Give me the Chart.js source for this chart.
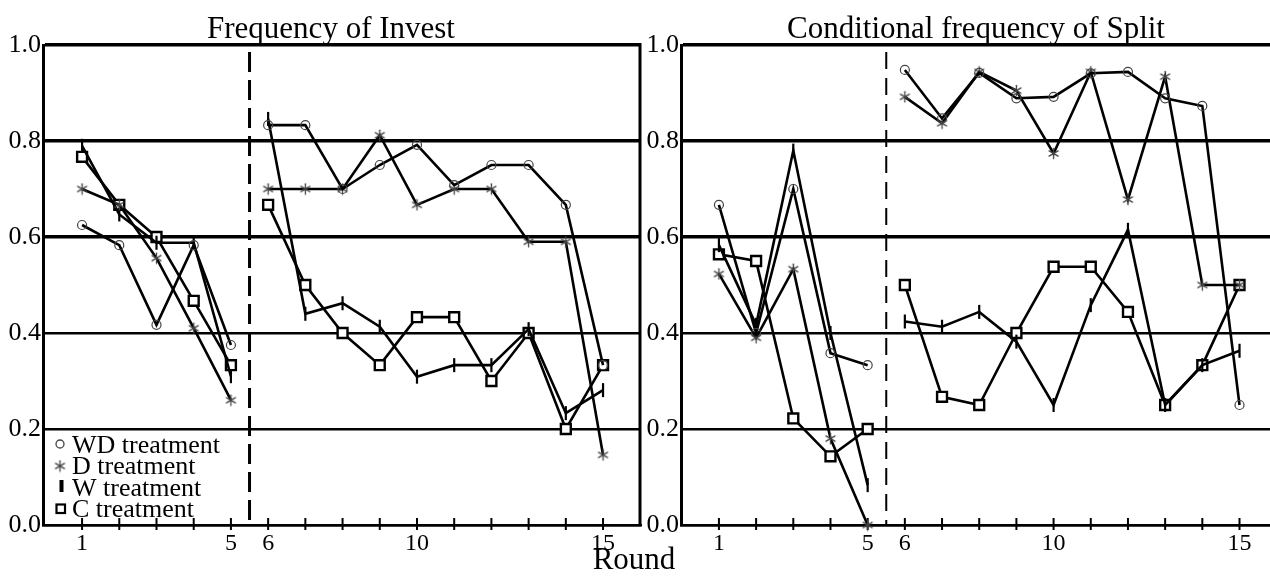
<!DOCTYPE html>
<html><head><meta charset="utf-8">
<script src="https://cdn.jsdelivr.net/npm/chart.js@4.4.1/dist/chart.umd.min.js"></script>
<style>
html,body{margin:0;padding:0;background:#fff;width:1270px;height:577px;overflow:hidden}
canvas{position:absolute;left:0;top:0}
</style></head><body>
<canvas id="c1" width="1270" height="577"></canvas>
<canvas id="c2" width="1270" height="577"></canvas>
<script>
// ---------- data ----------
const rounds = [1,2,3,4,5,6,7,8,9,10,11,12,13,14,15];
const xTickLabels = [1,5,6,10,15];
const yTickValues = [0,0.2,0.4,0.6,0.8,1.0];
const seriesNames = ['WD treatment','D treatment','W treatment','C treatment'];
const panelTitles = ['Frequency of Invest','Conditional frequency of Split'];
const xAxisTitle = 'Round';

// Frequency of Invest
const investWD = [0.625,0.583,0.417,0.583,0.375, 0.833,0.833,0.700,0.750,0.792,0.708,0.750,0.750,0.667,0.333];
const investD  = [0.700,0.667,0.556,0.410,0.260, 0.700,0.700,0.700,0.812,0.667,0.700,0.700,0.590,0.590,0.146];
const investW  = [0.790,0.647,0.588,0.588,0.310, 0.846,0.440,0.462,0.413,0.309,0.333,0.333,0.408,0.233,0.281];
const investC  = [0.767,0.667,0.600,0.467,0.333, 0.667,0.500,0.400,0.333,0.433,0.433,0.300,0.400,0.200,0.333];

// Conditional frequency of Split
const splitWD = [0.667,0.400,0.700,0.358,0.333, 0.948,0.847,0.942,0.889,0.892,0.941,0.944,0.889,0.873,0.250];
const splitD  = [0.523,0.390,0.533,0.180,0.000, 0.892,0.837,0.944,0.905,0.774,0.944,0.678,0.934,0.500,0.500];
const splitW  = [0.583,0.417,0.780,0.400,0.083, 0.424,0.413,0.444,0.382,0.250,0.458,0.615,0.250,0.333,0.363];
const splitC  = [0.564,0.550,0.222,0.143,0.200, 0.500,0.267,0.250,0.400,0.538,0.538,0.444,0.250,0.333,0.500];

const dividerRound = 5.5;

// ---------- styling ----------
Chart.defaults.font.family = '"Liberation Serif", "Times New Roman", serif';
Chart.defaults.color = '#000';

function makeAsterisk(){
  const c = document.createElement('canvas');
  c.width = 13; c.height = 13;
  const g = c.getContext('2d');
  g.strokeStyle = '#444'; g.lineWidth = 1.3; g.lineCap='round';
  const r = 5.2, cx = 6.5, cy = 6.5;
  [90,30,150].forEach(a=>{
    const t = a*Math.PI/180;
    g.beginPath();
    g.moveTo(cx+Math.cos(t)*r, cy-Math.sin(t)*r);
    g.lineTo(cx-Math.cos(t)*r, cy+Math.sin(t)*r);
    g.stroke();
  });
  return c;
}
const asterisk = makeAsterisk();

const markerStyles = [
  {pointStyle:'circle', pointRadius:4.5, pointBorderWidth:1.2, pointBorderColor:'#444', pointBackgroundColor:'rgba(0,0,0,0)', pointRotation:0},
  {pointStyle:asterisk, pointRadius:5, pointBorderWidth:1, pointBorderColor:'#444', pointBackgroundColor:'rgba(0,0,0,0)', pointRotation:0},
  {pointStyle:'line', pointRadius:7, pointBorderWidth:2.2, pointBorderColor:'#000', pointBackgroundColor:'#000', pointRotation:90},
  {pointStyle:'rect', pointRadius:7, pointBorderWidth:2.4, pointBorderColor:'#000', pointBackgroundColor:'#fff', pointRotation:0}
];

function buildDatasets(seriesList){
  return seriesList.map((vals,i)=>Object.assign({
    label: seriesNames[i],
    data: rounds.map((r,k)=>({x:r, y:vals[k]})),
    borderColor:'#000',
    borderWidth:2.6,
    tension:0,
    clip:false,
    segment:{ borderColor: c => (c.p0.parsed.x < dividerRound && c.p1.parsed.x > dividerRound) ? 'rgba(0,0,0,0)' : undefined }
  }, markerStyles[i]));
}

const decor = {
  id:'decor',
  beforeDatasetsDraw(chart, args, o){
    const ctx = chart.ctx, a = chart.chartArea, xs = chart.scales.x;
    ctx.save();
    ctx.strokeStyle = '#000';
    const xd = xs.getPixelForValue(dividerRound);
    ctx.lineWidth = o.dashWidth;
    ctx.setLineDash(o.dash);
    ctx.beginPath(); ctx.moveTo(xd, a.top + 7); ctx.lineTo(xd, a.bottom); ctx.stroke();
    ctx.setLineDash([]);
    ctx.lineWidth = 2;
    rounds.forEach(r=>{
      const px = xs.getPixelForValue(r);
      ctx.beginPath(); ctx.moveTo(px, a.bottom - 7); ctx.lineTo(px, a.bottom + 5); ctx.stroke();
    });
    if (o.rightBorder){
      ctx.lineWidth = 3;
      ctx.beginPath(); ctx.moveTo(a.right - 1, a.top - 2); ctx.lineTo(a.right - 1, a.bottom + 1); ctx.stroke();
    }
    ctx.restore();
  },
  afterDraw(chart, args, o){
    const ctx = chart.ctx;
    ctx.save();
    ctx.fillStyle = '#000';
    ctx.textAlign = 'center';
    ctx.textBaseline = 'alphabetic';
    ctx.font = '31px "Liberation Serif"';
    ctx.fillText(o.title, o.titleX, 38);
    if (o.legend){
      ctx.textAlign = 'left';
      ctx.font = '26px "Liberation Serif"';
      const base = [452.5, 474, 495.5, 517];
      seriesNames.forEach((n,i)=>ctx.fillText(n, 72, base[i]));
      ctx.strokeStyle = '#444'; ctx.lineWidth = 1.3;
      ctx.beginPath(); ctx.arc(60, 444, 4, 0, Math.PI*2); ctx.stroke();
      ctx.drawImage(asterisk, 60 - 6.5, 466 - 6.5);
      ctx.fillStyle = '#000';
      ctx.fillRect(59.5, 480, 4, 12);
      ctx.strokeStyle = '#000'; ctx.lineWidth = 2.2;
      ctx.strokeRect(56.5, 504.5, 8.5, 8.5);
      ctx.fillStyle = '#000';
      ctx.textAlign = 'center';
      ctx.font = '31px "Liberation Serif"';
      ctx.fillText(xAxisTitle, 634, 569);
    }
    ctx.restore();
  }
};

function makeChart(id, seriesList, cfg){
  return new Chart(document.getElementById(id), {
    type:'line',
    data:{ datasets: buildDatasets(seriesList) },
    options:{
      responsive:false, animation:false, events:[],
      layout:{ padding: cfg.padding, autoPadding:false },
      plugins:{
        legend:{display:false}, tooltip:{enabled:false}, title:{display:false},
        decor: cfg.decor
      },
      scales:{
        x:{
          type:'linear', min:cfg.xmin, max:cfg.xmax,
          afterFit: s => { s.height = 52; s.paddingLeft = 0; s.paddingRight = 0; },
          afterBuildTicks: s => { s.ticks = xTickLabels.map(v=>({value:v})); },
          grid:{ display:false, drawTicks:false },
          border:{ display:true, color:'#000', width:2.6 },
          ticks:{ font:{size:24}, color:'#000', padding:4, maxRotation:0, autoSkip:false, callback: v => String(v) }
        },
        y:{
          type:'linear', min:0, max:1,
          afterFit: s => { s.width = 43; s.paddingTop = 0; s.paddingBottom = 0; },
          afterBuildTicks: s => { s.ticks = yTickValues.map(v=>({value:v})); },
          grid:{ color:'#000', lineWidth: c => (c.tick && c.tick.value >= 0.55) ? 3.4 : 2.6, drawTicks:false },
          border:{ display:true, color:'#000', width:3 },
          ticks:{ font:{size:26}, color:'#000', padding:2, callback: v => Number(v).toFixed(1) }
        }
      }
    },
    plugins:[decor]
  });
}

makeChart('c1', [investWD, investD, investW, investC], {
  padding:{left:0, right:629, top:45, bottom:0},
  xmin:-0.05, xmax:16.02,
  decor:{ title: panelTitles[0], titleX:331, legend:true, rightBorder:true, dash:[20,8], dashWidth:3 }
});
makeChart('c2', [splitWD, splitD, splitW, splitC], {
  padding:{left:638, right:0, top:45, bottom:0},
  xmin:-0.02, xmax:15.82,
  decor:{ title: panelTitles[1], titleX:976, legend:false, rightBorder:false, dash:[17,9], dashWidth:2 }
});
</script>
</body></html>
